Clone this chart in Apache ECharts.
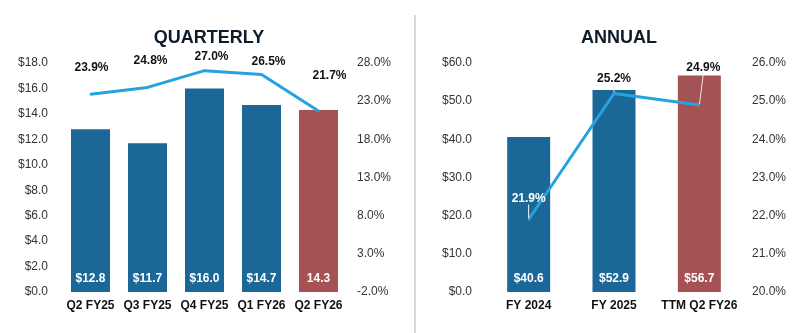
<!DOCTYPE html>
<html>
<head>
<meta charset="utf-8">
<script src="https://cdn.jsdelivr.net/npm/echarts@6/dist/echarts.min.js"></script>
<style>
  html, body { margin: 0; padding: 0; background: #fff; }
  #chart { width: 799px; height: 333px; }
</style>
</head>
<body>
<div id="chart"></div>
<script>
// Quarterly revenue ($M) and margin (%)
const quarterCategories = ['Q2 FY25', 'Q3 FY25', 'Q4 FY25', 'Q1 FY26', 'Q2 FY26'];
const quarterRevenue = [12.8, 11.7, 16.0, 14.7, 14.3];
const quarterMargin = [23.9, 24.8, 27.0, 26.5, 21.7];

// Annual revenue ($M) and margin (%)
const annualCategories = ['FY 2024', 'FY 2025', 'TTM Q2 FY26'];
const annualRevenue = [40.6, 52.9, 56.7];
const annualMargin = [21.9, 25.2, 24.9];

// Label nudges for the margin line (pixels, relative to the point)
const quarterLabelShift = [[1, -27], [3, -27], [7, -14], [7, -13], [11, -35]];
const annualLabelShift = [[0, -21], [0, -15], [4, -37]];

const BLUE = '#1b6898';
const RED = '#a45253';
const LINE = '#28a2df';
const FONT = 'Liberation Sans, Arial, sans-serif';

function barColor(lastIndex) {
  return function (p) { return p.dataIndex === lastIndex ? RED : BLUE; };
}

const axisCommon = {
  axisLine: { show: false },
  axisTick: { show: false },
  splitLine: { show: false }
};

const categoryLabel = { interval: 0, margin: 8, fontSize: 12, fontWeight: 'bold', color: '#111', fontFamily: FONT };

const chart = echarts.init(document.getElementById('chart'), null, { renderer: 'canvas' });

chart.setOption({
  animation: false,
  backgroundColor: '#fff',
  textStyle: { fontFamily: FONT },
  title: [
    { text: 'QUARTERLY', left: 204, top: 24, textAlign: 'center',
      textStyle: { fontSize: 18, fontWeight: 'bold', color: '#0d1b2a', fontFamily: FONT } },
    { text: 'ANNUAL', left: 614, top: 24, textAlign: 'center',
      textStyle: { fontSize: 18, fontWeight: 'bold', color: '#0d1b2a', fontFamily: FONT } }
  ],
  graphic: [
    { type: 'line', shape: { x1: 415, y1: 15, x2: 415, y2: 333 },
      style: { stroke: '#dadada', lineWidth: 2 } }
  ],
  grid: [
    { left: 62, top: 63, width: 285, height: 229 },
    { left: 486, top: 63, width: 256, height: 229 }
  ],
  xAxis: [
    Object.assign({ type: 'category', gridIndex: 0, data: quarterCategories,
      axisLabel: categoryLabel }, axisCommon),
    Object.assign({ type: 'category', gridIndex: 1, data: annualCategories,
      axisLabel: categoryLabel }, axisCommon)
  ],
  yAxis: [
    Object.assign({ type: 'value', gridIndex: 0, min: 0, max: 18, interval: 2,
      axisLabel: { margin: 14, fontSize: 12, color: '#333', fontFamily: FONT,
        formatter: v => '$' + v.toFixed(1) } }, axisCommon),
    Object.assign({ type: 'value', gridIndex: 0, position: 'right', min: -2, max: 28, interval: 5,
      axisLabel: { margin: 10, fontSize: 12, color: '#333', fontFamily: FONT,
        formatter: v => v.toFixed(1) + '%' } }, axisCommon),
    Object.assign({ type: 'value', gridIndex: 1, min: 0, max: 60, interval: 10,
      axisLabel: { margin: 14, fontSize: 12, color: '#333', fontFamily: FONT,
        formatter: v => '$' + v.toFixed(1) } }, axisCommon),
    Object.assign({ type: 'value', gridIndex: 1, position: 'right', min: 20, max: 26, interval: 1,
      axisLabel: { margin: 10, fontSize: 12, color: '#333', fontFamily: FONT,
        formatter: v => v.toFixed(1) + '%' } }, axisCommon)
  ],
  series: [
    {
      type: 'bar', xAxisIndex: 0, yAxisIndex: 0, data: quarterRevenue, barWidth: 39,
      itemStyle: { color: barColor(quarterRevenue.length - 1) },
      label: { show: true, position: 'insideBottom', distance: 7, color: '#fff',
        fontSize: 12, fontWeight: 'bold', fontFamily: FONT,
        formatter: p => (p.dataIndex === quarterRevenue.length - 1 ? '' : '$') + p.value.toFixed(1) },
      z: 2
    },
    {
      type: 'line', xAxisIndex: 0, yAxisIndex: 1, data: quarterMargin,
      symbol: 'circle', symbolSize: 2, itemStyle: { color: LINE },
      lineStyle: { color: LINE, width: 3 },
      label: { show: true, position: 'inside', color: '#111', fontSize: 12, fontWeight: 'bold',
        fontFamily: FONT, formatter: p => p.value.toFixed(1) + '%' },
      labelLayout: p => ({ dx: quarterLabelShift[p.dataIndex][0], dy: quarterLabelShift[p.dataIndex][1] }),
      z: 3
    },
    {
      type: 'bar', xAxisIndex: 1, yAxisIndex: 2, data: annualRevenue, barWidth: 43,
      itemStyle: { color: barColor(annualRevenue.length - 1) },
      label: { show: true, position: 'insideBottom', distance: 7, color: '#fff',
        fontSize: 12, fontWeight: 'bold', fontFamily: FONT,
        formatter: p => '$' + p.value.toFixed(1) },
      z: 2
    },
    {
      type: 'line', xAxisIndex: 1, yAxisIndex: 3,
      data: annualMargin.map((v, i) => ({
        value: v,
        label: i === 0 ? { color: '#fff' } : undefined,
        labelLine: i === 0 ? { lineStyle: { color: '#ffffff' } } : undefined
      })),
      symbol: 'circle', symbolSize: 2, itemStyle: { color: LINE },
      lineStyle: { color: LINE, width: 3 },
      label: { show: true, position: 'inside', color: '#111', fontSize: 12, fontWeight: 'bold',
        fontFamily: FONT, formatter: p => p.value.toFixed(1) + '%' },
      labelLine: { show: true, lineStyle: { color: '#e6e6e6', width: 1 } },
      labelLayout: p => ({ dx: annualLabelShift[p.dataIndex][0], dy: annualLabelShift[p.dataIndex][1] }),
      z: 3
    }
  ]
});
</script>
</body>
</html>
